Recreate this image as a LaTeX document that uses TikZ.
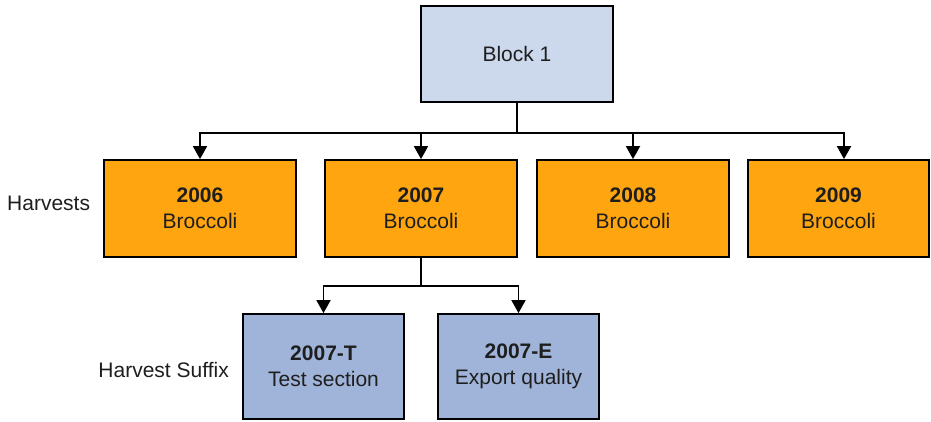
\documentclass[tikz,border=0pt]{standalone}
\usepackage{fontspec}
\setmainfont{Liberation Sans}
\usetikzlibrary{arrows.meta}
\definecolor{topblue}{HTML}{CCD9EC}
\definecolor{harvor}{HTML}{FFA50F}
\definecolor{sufblue}{HTML}{A0B4DA}
\definecolor{txt}{HTML}{1E1E1E}
\begin{document}
\begin{tikzpicture}[x=1pt,y=-1pt,
  box/.style={draw=black, line width=1.8pt, inner sep=0pt, align=center,
    text=txt, font=\fontsize{21}{26}\selectfont},
  topbox/.style={box, fill=topblue, minimum width=192pt, minimum height=96pt},
  harvbox/.style={box, fill=harvor, minimum width=192pt, minimum height=97pt},
  sufbox/.style={box, fill=sufblue, minimum width=161pt, minimum height=105pt},
  conn/.style={line width=1.8pt, draw=black},
  arr/.style={conn, -{Triangle[width=14pt,length=13pt]}},
  lbl/.style={text=txt, font=\fontsize{21}{26}\selectfont, inner sep=0pt}
]
\useasboundingbox (0,0) rectangle (931,421);
\node[topbox] (blk) at (517,54) {Block 1};
\node[harvbox] (h6) at (200,208.5) {\textbf{2006}\\Broccoli};
\node[harvbox] (h7) at (421,208.5) {\textbf{2007}\\Broccoli};
\node[harvbox] (h8) at (633,208.5) {\textbf{2008}\\Broccoli};
\node[harvbox, minimum width=181pt] (h9) at (838.5,208.5) {\textbf{2009}\\Broccoli};
\node[sufbox] (st) at (323.5,366.5) {\textbf{2007-T}\\Test section};
\node[sufbox] (se) at (518.5,366.5) {\textbf{2007-E}\\Export quality};
\node[lbl, anchor=west] (lh) at (7,203) {Harvests};
\node[lbl, anchor=east] (ls) at (229,370) {Harvest Suffix};
% connectors
\draw[conn] (blk.south) -- ++(0,30) coordinate (bus1);
\draw[arr] (bus1) -| (h6.north);
\draw[arr] (bus1) -| (h7.north);
\draw[arr] (bus1) -| (h8.north);
\draw[arr] (bus1) -| ([xshift=5.5pt]h9.north);
\draw[conn] (h7.south) -- ++(0,28) coordinate (bus2);
\draw[arr] (bus2) -| (st.north);
\draw[arr] (bus2) -| (se.north);
\end{tikzpicture}
\end{document}
